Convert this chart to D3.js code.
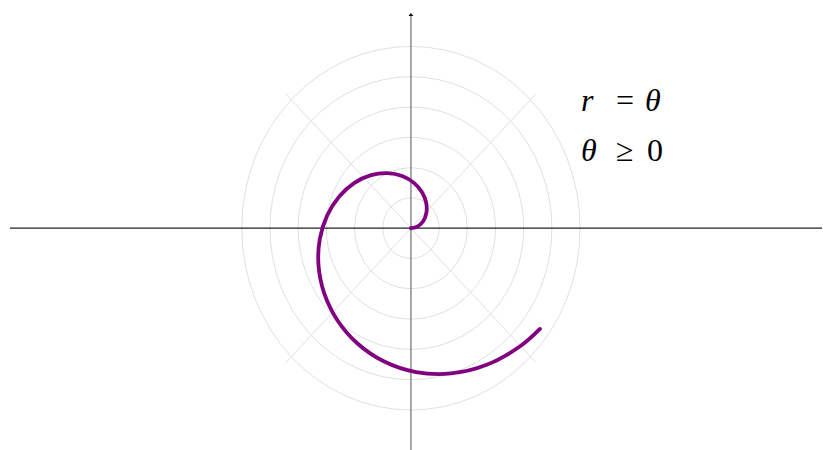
<!DOCTYPE html>
<html><head><meta charset="utf-8">
<script src="https://cdn.jsdelivr.net/npm/d3@7"></script>
<style>html,body{margin:0;padding:0;background:#fff;}svg{display:block;}</style>
</head><body>
<svg id="chart" width="823" height="450"></svg>
<script>
// Grid rings (radius values) and spoke angles (degrees)
const ringRadii = [1, 2, 3, 4, 5, 6];
const spokeAngles = [45, 135, 225, 315];
const spokeLength = 6.283;
// Spiral r = θ, θ ≥ 0 — samples (θ in radians, r in units)
const spiralTheta = [0, 0.25, 0.5, 0.75, 1, 1.25, 1.5, 1.75, 2, 2.25, 2.5, 2.75, 3, 3.25, 3.5, 3.75, 4, 4.25, 4.5, 4.75, 5, 5.25, 5.5, 5.655];
const spiralR     = [0, 0.25, 0.5, 0.75, 1, 1.25, 1.5, 1.75, 2, 2.25, 2.5, 2.75, 3, 3.25, 3.5, 3.75, 4, 4.25, 4.5, 4.75, 5, 5.25, 5.5, 5.655];
const labelLines = [["r", "=", "θ"], ["θ", "≥", "0"]];

const svg = d3.select("#chart");
const x = d3.scaleLinear().domain([-14.22, 14.58]).range([10, 822]);
const y = d3.scaleLinear().domain([-7.32, 7.07]).range([450, 14]);

// rings
const ringG = svg.append("g");
ringRadii.forEach(r => {
  ringG.append("ellipse")
    .attr("cx", x(0)).attr("cy", y(0))
    .attr("rx", x(r) - x(0)).attr("ry", y(0) - y(r))
    .attr("fill", "none").attr("stroke", "#e0e0e0").attr("stroke-width", 1);
});
// spokes
spokeAngles.forEach(a => {
  const t = a * Math.PI / 180;
  svg.append("line")
    .attr("x1", x(0)).attr("y1", y(0))
    .attr("x2", x(spokeLength * Math.cos(t))).attr("y2", y(spokeLength * Math.sin(t)))
    .attr("stroke", "#e0e0e0").attr("stroke-width", 1);
});

// axes
svg.append("line").attr("x1", x(-14.22)).attr("x2", x(14.58)).attr("y1", y(0)).attr("y2", y(0))
  .attr("stroke", "#222").attr("stroke-width", 1.3);
svg.append("line").attr("x1", x(0)).attr("x2", x(0)).attr("y1", y(7.03)).attr("y2", y(-7.32))
  .attr("stroke", "#8a8a8a").attr("stroke-width", 1.5);
svg.append("path")
  .attr("d", `M${x(0)-2.5},${y(7.0)} L${x(0)},${y(7.0)-3} L${x(0)+2.5},${y(7.0)} Z`)
  .attr("fill", "#111");

// spiral
const pts = spiralTheta.map((t, i) => [spiralR[i] * Math.cos(t), spiralR[i] * Math.sin(t)]);
svg.append("path").datum(pts)
  .attr("d", d3.line().x(d => x(d[0])).y(d => y(d[1])).curve(d3.curveCatmullRom))
  .attr("fill", "none").attr("stroke", "#800080").attr("stroke-width", 3.8)
  .attr("stroke-linecap", "round").attr("stroke-linejoin", "round");

// label
const colX = [581, 616, 645];
const rowY = [111, 161];
labelLines.forEach((line, li) => {
  line.forEach((s, si) => {
    const italic = (s === "r" || s === "θ");
    svg.append("text")
      .attr("x", colX[si] + (s === "0" ? 2 : 0)).attr("y", rowY[li])
      .style("font-family", '"Liberation Serif"')
      .style("font-size", "32px")
      .style("font-style", italic ? "italic" : "normal")
      .attr("fill", "#000")
      .text(s);
  });
});
</script>
</body></html>
